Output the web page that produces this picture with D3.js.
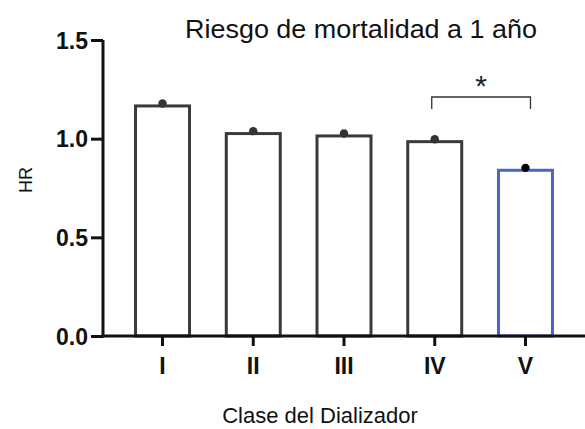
<!DOCTYPE html>
<html>
<head>
<meta charset="utf-8">
<script src="https://cdn.jsdelivr.net/npm/d3@7"></script>
<style>
  body { margin: 0; background: #fff; }
  svg { font-family: "Liberation Sans", Arial, sans-serif; }
</style>
</head>
<body>
<div id="chart"></div>
<script>
// data
var classes = ["I", "II", "III", "IV", "V"];
var hrValues = [1.178, 1.038, 1.026, 0.997, 0.852];
var barColors = ["#3a3a3a", "#3a3a3a", "#3a3a3a", "#3a3a3a", "#4a66c4"];
var dotColors = ["#333333", "#333333", "#333333", "#333333", "#000000"];
var yTicks = [0.0, 0.5, 1.0, 1.5];

var width = 585, height = 429;
var svg = d3.select("#chart").append("svg")
  .attr("width", width)
  .attr("height", height);

var x = d3.scaleBand()
  .domain(classes)
  .range([103, 585])
  .paddingInner(0.372)
  .paddingOuter(0.342);

var y = d3.scaleLinear()
  .domain([0, 1.5])
  .range([336, 40]);

// bars
var bw = 3;
svg.selectAll("rect.bar").data(hrValues).enter()
  .append("rect")
  .attr("class", "bar")
  .attr("x", function(d, i) { return x(classes[i]) + bw / 2; })
  .attr("y", function(d) { return y(d) + 2.4; })
  .attr("width", x.bandwidth() - bw)
  .attr("height", function(d) { return y(0) - y(d) - 2.4; })
  .attr("fill", "#fff")
  .attr("stroke", function(d, i) { return barColors[i]; })
  .attr("stroke-width", bw);

// dots
svg.selectAll("circle.dot").data(hrValues).enter()
  .append("circle")
  .attr("class", "dot")
  .attr("cx", function(d, i) { return x(classes[i]) + x.bandwidth() / 2; })
  .attr("cy", function(d) { return y(d); })
  .attr("r", 4.2)
  .attr("fill", function(d, i) { return dotColors[i]; });

// y axis
var yAxis = svg.append("g")
  .attr("transform", "translate(103,0)")
  .call(d3.axisLeft(y).tickValues(yTicks).tickFormat(d3.format(".1f")).tickSize(12).tickPadding(3));
yAxis.select(".domain").attr("stroke", "#111").attr("stroke-width", 3).attr("d", "M0,40V337.5");
yAxis.selectAll(".tick line").attr("stroke", "#111").attr("stroke-width", 3);
yAxis.selectAll(".tick text")
  .attr("fill", "#111")
  .style("font-size", "23px")
  .style("font-weight", "bold")
  .attr("dy", "0.35em");

// x axis
var xAxis = svg.append("g")
  .attr("transform", "translate(0,336)")
  .call(d3.axisBottom(x).tickSize(10).tickPadding(12));
xAxis.select(".domain").attr("stroke", "#111").attr("stroke-width", 3).attr("d", "M101.5,0H585");
xAxis.selectAll(".tick line").attr("stroke", "#111").attr("stroke-width", 3);
xAxis.selectAll(".tick text")
  .attr("fill", "#111")
  .style("font-size", "23px")
  .style("font-weight", "bold");

// significance bracket
var xl = x("IV") + x.bandwidth() / 2 - 3;
var xr = x("V") + x.bandwidth() / 2 + 5;
svg.append("path")
  .attr("d", "M" + xl + ",109V97H" + xr + "V109")
  .attr("fill", "none")
  .attr("stroke", "#333")
  .attr("stroke-width", 1.3);
svg.append("text")
  .attr("x", (xl + xr) / 2)
  .attr("y", 96)
  .attr("text-anchor", "middle")
  .style("font-size", "30px")
  .attr("fill", "#222")
  .text("*");

// titles
svg.append("text")
  .attr("x", 185)
  .attr("y", 38)
  .attr("textLength", 352)
  .attr("lengthAdjust", "spacingAndGlyphs")
  .style("font-size", "25px")
  .attr("fill", "#111")
  .text("Riesgo de mortalidad a 1 año");

svg.append("text")
  .attr("x", 320)
  .attr("y", 423)
  .attr("text-anchor", "middle")
  .style("font-size", "22px")
  .attr("fill", "#111")
  .text("Clase del Dializador");

svg.append("text")
  .attr("transform", "translate(32,180) rotate(-90)")
  .attr("text-anchor", "middle")
  .style("font-size", "18px")
  .style("font-weight", "500")
  .attr("fill", "#111")
  .text("HR");
</script>
</body>
</html>
